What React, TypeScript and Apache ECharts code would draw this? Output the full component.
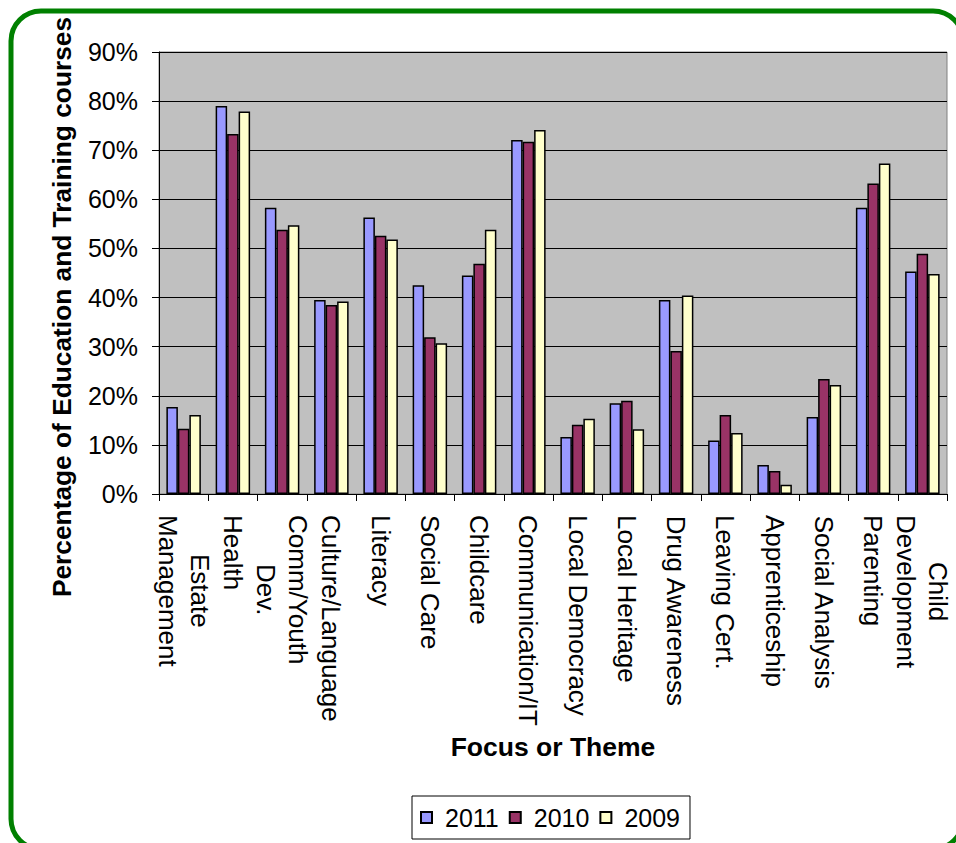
import React, { useEffect, useRef } from "react";
import * as echarts from "echarts";

const categories = [
  "Estate\nManagement",
  "Health",
  "Comm/Youth\nDev.",
  "Culture/Language",
  "Literacy",
  "Social Care",
  "Childcare",
  "Communication/IT",
  "Local Democracy",
  "Local Heritage",
  "Drug Awareness",
  "Leaving Cert.",
  "Apprenticeship",
  "Social Analysis",
  "Parenting",
  "Child\nDevelopment",
];

const seriesNames = ["2011", "2010", "2009"];

const values2011 = [17.7, 79.0, 58.3, 39.5, 56.3, 42.5, 44.5, 72.1, 11.6, 18.5, 39.5, 10.9, 5.9, 15.7, 58.3, 45.3];
const values2010 = [13.3, 73.3, 53.8, 38.5, 52.6, 31.9, 46.9, 71.7, 14.1, 19.0, 29.1, 16.1, 4.7, 23.4, 63.2, 48.9];
const values2009 = [16.1, 77.9, 54.7, 39.2, 51.8, 30.7, 53.8, 74.1, 15.3, 13.2, 40.4, 12.4, 1.9, 22.2, 67.3, 44.8];

const yTicks = [0, 10, 20, 30, 40, 50, 60, 70, 80, 90];

const yTitle = "Percentage of Education and Training courses";
const xTitle = "Focus or Theme";

const colors = ["#9999FF", "#993366", "#FFFFCC"];

const FONT = "'Liberation Sans', Arial, sans-serif";

export default function App() {
  const ref = useRef<HTMLDivElement>(null);

  useEffect(() => {
    if (!ref.current) return;
    const chart = echarts.init(ref.current, null, { renderer: "svg" });
    const allValues = [values2011, values2010, values2009];

    chart.setOption({
      animation: false,
      backgroundColor: "#ffffff",
      textStyle: { fontFamily: FONT, color: "#000" },
      grid: {
        left: 159,
        right: 9,
        top: 52,
        bottom: 349,
        show: true,
        backgroundColor: "#C0C0C0",
        borderColor: "#808080",
        borderWidth: 1,
      },
      legend: {
        left: 412,
        top: 796,
        orient: "horizontal",
        padding: [9, 10, 9, 8],
        itemGap: 10,
        itemWidth: 11,
        itemHeight: 11,
        borderColor: "#000",
        borderWidth: 1,
        borderRadius: 0,
        backgroundColor: "#fff",
        icon: "rect",
        data: seriesNames,
        textStyle: {
          fontSize: 25,
          fontFamily: FONT,
          color: "#000",
          padding: [0, 0, 0, 8],
        },
      },
      xAxis: {
        type: "category",
        data: categories,
        name: xTitle,
        nameLocation: "middle",
        nameGap: 239,
        nameTextStyle: { fontSize: 26.5, fontWeight: "bold", fontFamily: FONT, color: "#000" },
        axisLine: { show: true, lineStyle: { color: "#000", width: 1 } },
        axisTick: { show: true, length: 7, alignWithLabel: false, lineStyle: { color: "#000" } },
        axisLabel: {
          interval: 0,
          rotate: -90,
          margin: 21,
          fontSize: 26,
          fontFamily: FONT,
          color: "#000",
          formatter: (v: string) => v.split("\n").map((s) => `{c|${s}}`).join("\n"),
          rich: {
            c: { align: "center", fontSize: 26, fontFamily: FONT, color: "#000", lineHeight: 32 },
          },
        },
        splitLine: { show: false },
      },
      yAxis: {
        type: "value",
        min: yTicks[0],
        max: yTicks[yTicks.length - 1],
        interval: 10,
        axisLine: { show: true, lineStyle: { color: "#000", width: 1 } },
        axisTick: { show: true, length: 7, lineStyle: { color: "#000" } },
        axisLabel: {
          margin: 21,
          fontSize: 25,
          fontFamily: FONT,
          color: "#000",
          formatter: "{value}%",
        },
        splitLine: { show: true, lineStyle: { color: "#000", width: 1 } },
      },
      graphic: [
        {
          type: "rect",
          silent: true,
          shape: { x: 11, y: 11, width: 952, height: 838, r: 30 },
          style: { fill: "none", stroke: "#008000", lineWidth: 5 },
          z: 100,
        },
        {
          type: "text",
          x: 62,
          y: 307,
          rotation: Math.PI / 2,
          style: {
            text: yTitle,
            fontSize: 26.3,
            fontWeight: "bold",
            fontFamily: FONT,
            fill: "#000",
            align: "center",
            verticalAlign: "middle",
          },
        },
      ],
      series: seriesNames.map((name, i) => ({
        name,
        type: "bar",
        data: allValues[i],
        barGap: "0%",
        barCategoryGap: "30%",
        itemStyle: { color: colors[i], borderColor: "#000", borderWidth: 1.5 },
        emphasis: { disabled: true },
      })),
    });

    return () => chart.dispose();
  }, []);

  return (
    <div
      ref={ref}
      style={{ position: "absolute", left: 0, top: 0, width: 956, height: 843 }}
    />
  );
}
